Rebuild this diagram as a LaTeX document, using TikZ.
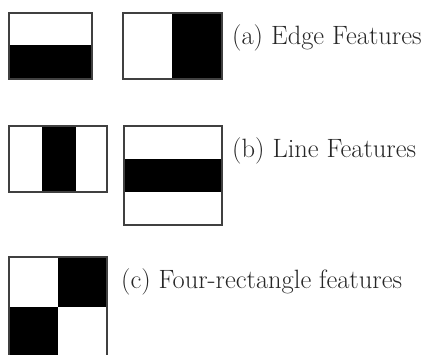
\documentclass[tikz,border=0pt]{standalone}
\begin{document}
\begin{tikzpicture}[x=1pt,y=-1pt,
  frame/.style={draw=black!75,line width=1.6pt},
  blk/.style={fill=black},
  lbl/.style={anchor=base west,inner sep=0pt,text=black!85,font=\fontsize{26.5}{30}\selectfont}]
\useasboundingbox (0,0) rectangle (423,354);
% (a) edge features
\fill[blk] (9,45) rectangle (92,79);
\draw[frame] (9,13) rectangle (92,79);
\fill[blk] (172,13) rectangle (222,79);
\draw[frame] (123,13) rectangle (222,79);
\node[lbl] (la) at (232,44) {(a) Edge Features};
% (b) line features
\fill[blk] (42,126) rectangle (76,192);
\draw[frame] (9,126) rectangle (107,192);
\fill[blk] (124,159) rectangle (222,192);
\draw[frame] (124,126) rectangle (222,225);
\node[lbl] (lb) at (232,157) {(b) Line Features};
% (c) four-rectangle features
\fill[blk] (58,257) rectangle (107,307);
\fill[blk] (9,307) rectangle (58,356);
\draw[frame] (9,257) rectangle (107,356);
\node[lbl] (lc) at (121,288) {(c) Four-rectangle features};
\end{tikzpicture}
\end{document}
